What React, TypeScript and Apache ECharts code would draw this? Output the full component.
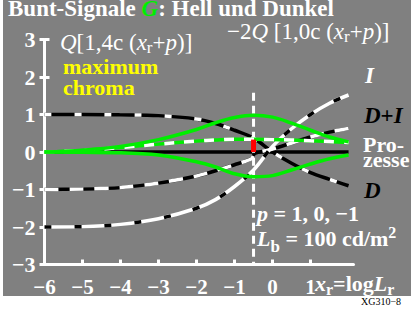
import React, { useEffect, useRef } from 'react';
import * as echarts from 'echarts';

// ---- data ----
const xGrid = [-6, -5, -4, -3, -2, -1.5, -1, -0.5, 0, 0.5, 1, 1.5, 2];
const dValues = [1.0, 1.0, 0.99, 0.97, 0.88, 0.76, 0.58, 0.37, 0.0, -0.3, -0.55, -0.73, -0.9];
const iValues = [-2.0, -1.99, -1.93, -1.78, -1.5, -1.27, -0.92, -0.48, 0.15, 0.62, 1.0, 1.3, 1.52];
const dPlusIX = [-6, -5, -4, -3, -2, -1.5, -1, -0.55, -0.47, 0, 0.5, 1, 1.5, 2];
const dPlusIValues = [-1.0, -0.99, -0.95, -0.83, -0.64, -0.5, -0.34, -0.18, -0.04, 0.08, 0.24, 0.4, 0.53, 0.63];
const greenUpper = [0.0, 0.05, 0.15, 0.33, 0.6, 0.78, 0.92, 0.98, 0.93, 0.77, 0.58, 0.4, 0.27];
const greenLower = [0.0, -0.01, -0.02, -0.08, -0.26, -0.4, -0.58, -0.66, -0.63, -0.48, -0.32, -0.18, -0.08];
const processValues = [0.0, 0.04, 0.12, 0.21, 0.29, 0.32, 0.34, 0.34, 0.33, 0.32, 0.3, 0.28, 0.25];
const zeroLineX = [-6, 2];
const zeroLineValues = [0, 0];
const markerX = -0.5;
const markerRange = [0, 0.33];
const verticalRange = [1.58, -3];
const xTicks = [-6, -5, -4, -3, -2, -1, 0, 1];

const FONT = 'Liberation Serif, Times New Roman, serif';
const GREEN = '#00ee00';
const GRAY = '#808080';

const pairs = (xs: number[], ys: number[]) => xs.map((x, i) => [x, ys[i]]);
const minus = (v: number) => (v < 0 ? '\u2212' + Math.abs(v) : String(v));

type Part = { t: string; size?: number; bold?: boolean; italic?: boolean; color?: string; dy?: number };

function textRun(x0: number, baseline: number, parts: Part[], def: { size: number; bold: boolean; color: string }) {
  const canvas = document.createElement('canvas');
  const ctx = canvas.getContext('2d')!;
  let x = x0;
  const out: any[] = [];
  for (const p of parts) {
    const size = p.size ?? def.size;
    const bold = p.bold ?? def.bold;
    const italic = p.italic ?? false;
    const color = p.color ?? def.color;
    ctx.font = `${italic ? 'italic ' : ''}${bold ? 'bold ' : ''}${size}px ${FONT}`;
    const w = ctx.measureText(p.t).width;
    out.push({
      type: 'text',
      x,
      y: baseline + (p.dy ?? 0) - 0.34 * size,
      z: 100,
      silent: true,
      style: {
        text: p.t,
        fontFamily: FONT,
        fontSize: size,
        fontWeight: bold ? 'bold' : 'normal',
        fontStyle: italic ? 'italic' : 'normal',
        fill: color,
        textAlign: 'left',
        textVerticalAlign: 'middle',
      },
    });
    x += w;
  }
  return out;
}

function lineSeries(data: number[][], color: string, width: number, z: number, dash?: number[], smooth: number | boolean = 0.35) {
  return {
    type: 'line',
    data,
    symbol: 'none',
    showSymbol: false,
    smooth,
    z,
    silent: true,
    lineStyle: { color, width, type: dash ? dash : 'solid', cap: 'butt' },
  };
}

export default function App() {
  const ref = useRef<HTMLDivElement>(null);
  useEffect(() => {
    if (!ref.current) return;
    const chart = echarts.init(ref.current, undefined, { renderer: 'svg' });

    const W = '#ffffff';
    const graphics: any[] = [
      { type: 'rect', shape: { x: 3, y: 0, width: 408, height: 296 }, style: { fill: GRAY }, z: -10, silent: true },
      ...textRun(8, 16, [
        { t: 'Bunt-Signale ' },
        { t: 'G', italic: true, color: GREEN },
        { t: ': Hell und Dunkel' },
      ], { size: 23, bold: true, color: W }),
      ...textRun(60, 50, [
        { t: 'Q', italic: true },
        { t: '[1,4c (' },
        { t: 'x', italic: true },
        { t: 'r', size: 17, dy: 3 },
        { t: '+' },
        { t: 'p', italic: true },
        { t: ')]' },
      ], { size: 23, bold: false, color: W }),
      ...textRun(227, 39, [
        { t: '\u22122' },
        { t: 'Q', italic: true },
        { t: ' [1,0c (' },
        { t: 'x', italic: true },
        { t: 'r', size: 17, dy: 3 },
        { t: '+' },
        { t: 'p', italic: true },
        { t: ')]' },
      ], { size: 23, bold: false, color: W }),
      ...textRun(63, 74, [{ t: 'maximum' }], { size: 22, bold: true, color: '#ffff00' }),
      ...textRun(63, 95, [{ t: 'chroma' }], { size: 22, bold: true, color: '#ffff00' }),
      ...textRun(365, 83, [{ t: 'I', italic: true }], { size: 23, bold: true, color: W }),
      ...textRun(364, 123, [{ t: 'D', italic: true }, { t: '+' }, { t: 'I', italic: true }], { size: 23, bold: true, color: '#000000' }),
      ...textRun(363, 152, [{ t: 'Pro-' }], { size: 22, bold: true, color: W }),
      ...textRun(363, 167, [{ t: 'zesse' }], { size: 22, bold: true, color: W }),
      ...textRun(364, 198, [{ t: 'D', italic: true }], { size: 23, bold: true, color: '#000000' }),
      ...textRun(257, 221, [{ t: 'p', italic: true }, { t: ' = 1, 0, \u22121' }], { size: 22, bold: true, color: W }),
      ...textRun(257, 246, [
        { t: 'L', italic: true },
        { t: 'b', size: 17, dy: 6 },
        { t: ' = 100 cd/m' },
        { t: '2', size: 16, dy: -8 },
      ], { size: 22, bold: true, color: W }),
      ...textRun(315, 291, [
        { t: 'x', italic: true },
        { t: 'r', size: 16, dy: 4 },
        { t: '=log' },
        { t: 'L', italic: true },
        { t: 'r', size: 16, dy: 4 },
      ], { size: 22, bold: true, color: W }),
      ...textRun(361, 305, [{ t: 'XG310\u22128' }], { size: 10, bold: false, color: '#000000' }),
    ];

    const option: any = {
      animation: false,
      backgroundColor: '#ffffff',
      grid: { left: 44.5, top: 39.5, width: 309, height: 225, containLabel: false, outerBoundsMode: 'none' },
      xAxis: {
        type: 'value',
        min: -6,
        max: 2.13,
        interval: 1,
        splitLine: { show: false },
        axisLine: { show: true, onZero: false, lineStyle: { color: W, width: 3 } },
        axisTick: { show: true, inside: true, length: 5, lineStyle: { color: W, width: 3 }, customValues: xTicks },
        axisLabel: {
          show: true,
          margin: 12,
          color: W,
          fontSize: 21,
          fontWeight: 'bold',
          fontFamily: FONT,
          customValues: xTicks,
          formatter: (v: number) => (v > 1.5 ? '' : minus(v)),
        },
      },
      yAxis: [
        {
          type: 'value',
          min: -3,
          max: 3,
          interval: 1,
          splitLine: { show: false },
          axisLine: { show: true, onZero: false, lineStyle: { color: W, width: 3 } },
          axisTick: { show: true, inside: false, length: 5, lineStyle: { color: W, width: 3 } },
          axisLabel: { show: true, margin: 9, color: W, fontSize: 22, fontWeight: 'bold', fontFamily: FONT, formatter: (v: number) => minus(v) },
        },
        {
          type: 'value',
          min: -3,
          max: 3,
          interval: 1,
          position: 'left',
          splitLine: { show: false },
          axisLine: { show: false, onZero: false },
          axisTick: { show: true, inside: true, length: 5, lineStyle: { color: W, width: 3 } },
          axisLabel: { show: false },
        },
      ],
      graphic: { elements: graphics },
      series: [
        lineSeries(pairs(zeroLineX, zeroLineValues), '#000000', 3.3, 3, undefined, false),
        lineSeries(pairs(xGrid, dValues), '#000000', 3.5, 4),
        lineSeries(pairs(xGrid, dValues), '#ffffff', 3.5, 5, [7, 23]),
        lineSeries(pairs(dPlusIX, dPlusIValues), '#000000', 3.5, 6, undefined, 0.2),
        lineSeries(pairs(dPlusIX, dPlusIValues), '#ffffff', 3.5, 7, [14, 11], 0.2),
        lineSeries(pairs(xGrid, iValues), '#ffffff', 3.5, 8),
        lineSeries(pairs(xGrid, iValues), '#000000', 3.5, 9, [7, 23]),
        lineSeries([[markerX, verticalRange[0]], [markerX, verticalRange[1]]], '#ffffff', 3, 10, [8, 5], false),
        lineSeries(pairs(xGrid, processValues), GREEN, 3.5, 11),
        lineSeries(pairs(xGrid, processValues), '#ffffff', 3.5, 12, [10, 10]),
        lineSeries(pairs(xGrid, greenUpper), GREEN, 3.5, 13),
        lineSeries(pairs(xGrid, greenLower), GREEN, 3.5, 14),
        lineSeries([[markerX, markerRange[0]], [markerX, markerRange[1]]], '#ff0000', 5, 15, undefined, false),
      ],
    };
    chart.setOption(option);
    return () => chart.dispose();
  }, []);

  return (
    <div
      ref={ref}
      style={{ position: 'fixed', left: 0, top: 0, width: 413, height: 323, background: '#ffffff' }}
    />
  );
}
